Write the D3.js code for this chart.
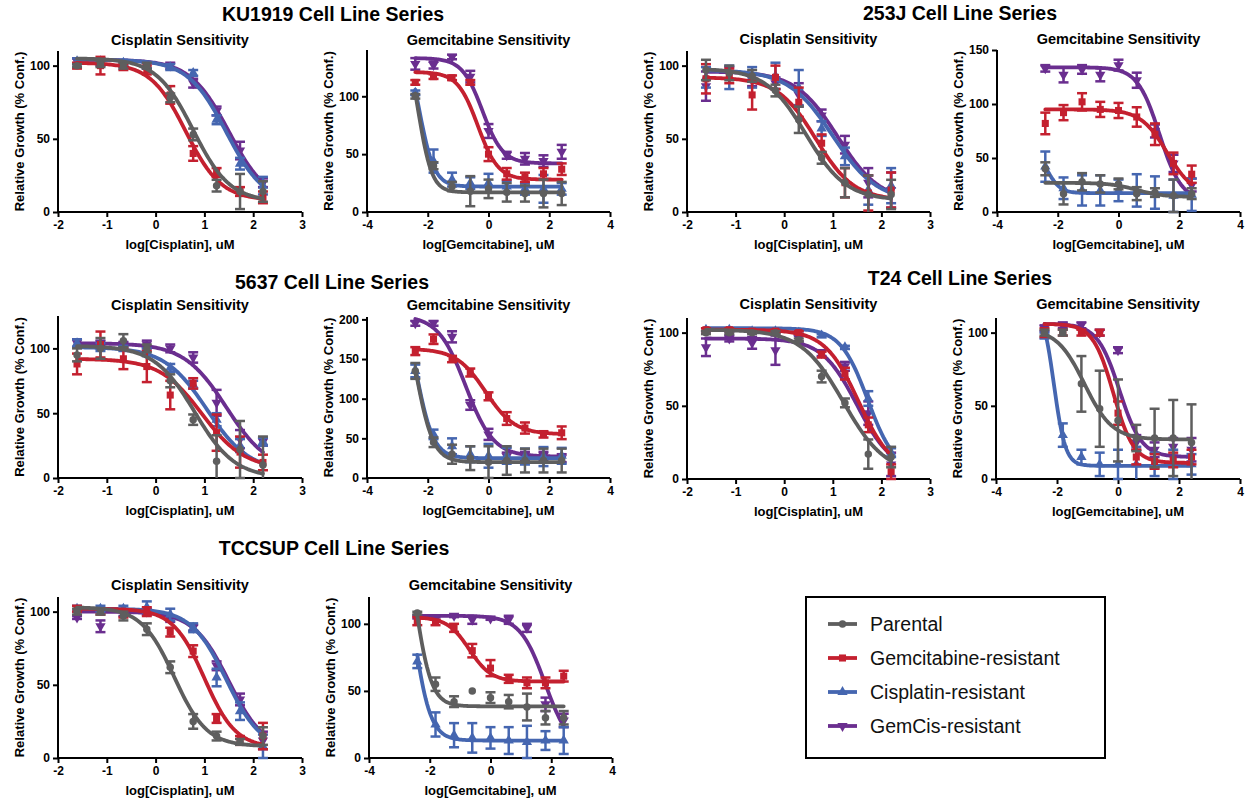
<!DOCTYPE html>
<html><head><meta charset="utf-8">
<script src="https://cdn.jsdelivr.net/npm/d3@7"></script>
<style>
body{margin:0;background:#fff}
text{font-family:"Liberation Sans",Arial,Helvetica,sans-serif}
</style>
</head><body>
<svg id="chart" width="1247" height="803"></svg>
<script>
// ---------------- DATA ----------------
const seriesNames = ["Parental", "Gemcitabine-resistant", "Cisplatin-resistant", "GemCis-resistant"];
const cellLines = ["KU1919", "253J", "5637", "T24", "TCCSUP"];
const cisLogDose = [-1.61, -1.13, -0.66, -0.18, 0.30, 0.77, 1.25, 1.73, 2.20];
const gemLogDose = [-2.41, -1.81, -1.20, -0.60, 0.00, 0.60, 1.20, 1.81, 2.41];
const cisTicks = [-2, -1, 0, 1, 2, 3];
const gemTicks = [-4, -2, 0, 2, 4];

// mean per series [Parental, Gem-res, Cis-res, GemCis-res]; sem; fit = [top, bottom, logIC50, hill]
const ku1919CisMean = [[100,101,100,100,78,53,18,14,14],[100,100,99,97,80,40,27,14,10],[103,103,102,100,99,95,63,33,18],[103,102,101,100,100,88,69,42,20]];
const ku1919CisSem  = [[1,2,2,2,3,4,4,12,7],[2,6,2,3,6,5,3,3,4],[2,2,2,2,2,2,3,4,6],[2,2,2,2,2,3,3,6,3]];
const ku1919CisFit  = [[105,7,0.77,1.15],[102,8,0.62,1.2],[104,5,1.45,1.1],[104,6,1.5,1.1]];

const ku1919GemMean = [[100,40,22,18,20,17,16,16,16],[112,117,116,112,50,33,30,33,37],[103,44,28,25,25,22,20,20,20],[128,127,134,117,70,49,46,44,52]];
const ku1919GemSem  = [[2,3,4,13,8,8,7,12,10],[2,2,2,2,6,5,4,5,5],[2,10,6,5,8,5,5,12,5],[5,3,2,5,6,3,5,5,6]];
const ku1919GemFit  = [[160,17,-2.32,1.9],[121,28,-0.35,1.3],[160,22,-2.3,1.7],[133,42,-0.2,1.3]];

const j253CisMean = [[97,95,93,83,63,37,20,12,12],[91,93,80,92,75,47,20,13,15],[92,92,92,93,85,57,38,15,18],[86,95,90,88,80,66,46,20,15]];
const j253CisSem  = [[7,5,4,4,9,4,10,13,10],[10,5,10,8,10,6,10,12,12],[7,8,7,9,12,5,6,10,12],[10,4,4,4,8,4,6,10,12]];
const j253CisFit  = [[98,8,0.45,1.05],[92,8,0.65,1.1],[97,7,1.0,0.95],[96,7,1.1,1.0]];

const j253GemMean = [[40,17,28,26,26,17,18,15,17],[82,92,102,95,94,88,72,45,35],[42,22,20,20,20,20,18,15,16],[133,127,132,127,136,122,75,45,25]];
const j253GemSem  = [[6,10,8,8,5,6,4,15,5],[10,7,8,7,7,9,10,10,8],[14,10,14,14,10,15,15,15,15],[3,7,4,6,5,7,6,8,6]];
const j253GemFit  = [[27,14,0.6,1.0],[95,15,1.6,1.0],[60,17.5,-2.35,2.0],[134,10,1.35,1.2]];

const c5637CisMean = [[95,100,106,100,75,45,13,22,10],[88,103,92,86,64,73,35,20,12],[104,101,100,97,85,72,45,25,28],[104,104,103,103,100,93,58,30,28]];
const c5637CisSem  = [[5,8,5,3,5,4,20,22,22],[8,10,8,12,11,4,14,12,6],[3,3,2,3,3,3,5,5,3],[3,2,2,3,3,4,10,7,3]];
const c5637CisFit  = [[102,0,0.8,1.05],[92,7,0.95,1.0],[101,5,1.05,1.0],[104,5,1.45,1.0]];

const c5637GemMean = [[135,45,30,25,20,22,22,22,22],[160,175,150,133,103,75,63,55,57],[135,55,40,30,28,28,27,27,28],[195,195,178,92,55,27,28,28,25]];
const c5637GemSem  = [[10,6,12,15,20,18,15,15,15],[5,6,4,5,5,8,7,4,8],[8,6,10,10,15,10,10,12,10],[3,3,7,6,7,5,5,5,5]];
const c5637GemFit  = [[250,20,-2.4,1.5],[163,55,-0.1,0.9],[250,25,-2.4,1.5],[205,27,-0.75,0.95]];

const t24CisMean = [[100,100,100,100,95,70,52,17,15],[102,102,101,101,100,85,72,37,5],[102,102,101,101,100,98,90,55,18],[90,96,93,88,96,86,77,45,10]];
const t24CisSem  = [[1,1,1,1,1,4,3,10,7],[1,1,1,1,1,2,4,5,5],[1,1,1,1,1,1,1,5,3],[6,2,4,10,2,2,3,8,8]];
const t24CisFit  = [[102,3,1.22,1.0],[102,4,1.53,1.25],[103,5,1.72,1.55],[96,5,1.5,1.2]];

const t24GemMean = [[100,100,65,48,40,28,28,28,25],[100,100,100,100,45,15,12,13,15],[98,30,15,10,10,10,10,10,10],[103,105,105,100,88,25,20,22,20]];
const t24GemSem  = [[2,2,19,26,28,9,20,26,26],[3,2,2,2,8,5,5,5,5],[2,8,5,8,10,12,8,10,7],[2,2,2,2,2,5,5,6,8]];
const t24GemFit  = [[103,27,-1.1,0.95],[106,11,-0.15,1.3],[120,9,-2.1,2.3],[106,15,0.05,1.2]];

const tccCisMean = [[100,100,97,88,62,25,15,11,15],[102,100,98,100,86,73,27,12,15],[102,102,102,103,98,89,55,32,8],[96,90,99,100,95,89,63,40,12]];
const tccCisSem  = [[2,2,3,4,4,5,3,2,6],[2,2,2,3,3,4,3,3,9],[2,2,2,4,4,3,6,6,8],[1,4,2,2,2,2,3,4,6]];
const tccCisFit  = [[103,8,0.38,1.3],[102,7,1.0,1.35],[102,5,1.45,1.2],[100,5,1.5,1.2]];

const tccGemMean = [[108,55,42,50,45,42,38,30,30],[102,101,97,80,67,59,56,56,61],[72,25,17,15,15,13,12,13,13],[105,104,106,103,104,103,97,40,28]];
const tccGemSem  = [[1,5,4,0,4,5,10,5,5],[3,2,3,5,6,3,4,4,4],[5,9,9,11,8,10,12,7,10],[1,1,1,3,1,3,3,5,5]];
const tccGemFit  = [[200,38.5,-2.5,1.6],[105,57,-0.7,1.2],[200,13,-2.6,1.5],[106,5,1.8,1.05]];

const yAxisMax = [110, 140, 110, 150, 125, 203, 110, 110, 110, 120];
const yTickSets = [[0,50,100],[0,50,100],[0,50,100],[0,50,100,150],[0,50,100],[0,50,100,150,200],[0,50,100],[0,50,100],[0,50,100],[0,50,100]];

// ---------------- STYLE / LAYOUT ----------------
const colors = ["#5e5e5e", "#c4202f", "#4566b0", "#6a2e8f"];
const symbols = ["circle", "square", "up", "down"];

const panels = [
  {drug:"cis", mean:ku1919CisMean, sem:ku1919CisSem, fit:ku1919CisFit, x:58,  y:51,  w:244, h:161, tb:45},
  {drug:"gem", mean:ku1919GemMean, sem:ku1919GemSem, fit:ku1919GemFit, x:367, y:50,  w:243, h:162, tb:45},
  {drug:"cis", mean:j253CisMean,   sem:j253CisSem,   fit:j253CisFit,   x:687, y:51,  w:243, h:161, tb:44},
  {drug:"gem", mean:j253GemMean,   sem:j253GemSem,   fit:j253GemFit,   x:997, y:50,  w:243, h:162, tb:44},
  {drug:"cis", mean:c5637CisMean,  sem:c5637CisSem,  fit:c5637CisFit,  x:58,  y:316, w:244, h:162, tb:310},
  {drug:"gem", mean:c5637GemMean,  sem:c5637GemSem,  fit:c5637GemFit,  x:367, y:317, w:243, h:161, tb:310},
  {drug:"cis", mean:t24CisMean,    sem:t24CisSem,    fit:t24CisFit,    x:687, y:318, w:243, h:161, tb:309},
  {drug:"gem", mean:t24GemMean,    sem:t24GemSem,    fit:t24GemFit,    x:996, y:318, w:244, h:161, tb:309},
  {drug:"cis", mean:tccCisMean,    sem:tccCisSem,    fit:tccCisFit,    x:58,  y:597, w:244, h:161, tb:590},
  {drug:"gem", mean:tccGemMean,    sem:tccGemSem,    fit:tccGemFit,    x:369, y:597, w:243, h:161, tb:590}
];
const mainTitles = [
  {x:333, y:21}, {x:960, y:20}, {x:332, y:289}, {x:960, y:285}, {x:334, y:555}
];

const svg = d3.select("#chart");
svg.append("rect").attr("width",1247).attr("height",803).attr("fill","#fff");

function logistic(f, x){ return f[1] + (f[0]-f[1])/(1+Math.pow(10,(x-f[2])*f[3])); }

function symbolPath(kind){
  if (kind==="circle") return d3.symbol(d3.symbolCircle, 44)();
  if (kind==="square") return d3.symbol(d3.symbolSquare, 50)();
  return d3.symbol(d3.symbolTriangle, 46)();
}
function addMarker(g, kind, cx, cy, color){
  g.append("path").attr("d", symbolPath(kind))
    .attr("transform", `translate(${cx},${cy})` + (kind==="down" ? " rotate(180)" : ""))
    .attr("fill", color);
}

mainTitles.forEach((t,i)=>{
  svg.append("text").attr("x",t.x).attr("y",t.y).attr("text-anchor","middle")
    .attr("font-size","19.5px").attr("font-weight","bold").text(cellLines[i] + " Cell Line Series");
});

panels.forEach((p, pi)=>{
  const isCis = p.drug==="cis";
  const doses = isCis ? cisLogDose : gemLogDose;
  const xs = d3.scaleLinear().domain(isCis ? [-2,3] : [-4,4]).range([p.x, p.x+p.w]);
  const ymax = yAxisMax[pi];
  const ys = d3.scaleLinear().domain([0, ymax]).range([p.y+p.h, p.y]);
  const g = svg.append("g");

  g.append("text").attr("x", p.x + p.w/2).attr("y", p.tb).attr("text-anchor","middle")
    .attr("font-size","14.5px").attr("font-weight","bold")
    .text(isCis ? "Cisplatin Sensitivity" : "Gemcitabine Sensitivity");

  const xAxis = d3.axisBottom(xs).tickValues(isCis ? cisTicks : gemTicks).tickSize(5).tickSizeOuter(0).tickPadding(3).tickFormat(d=>String(d));
  const yAxis = d3.axisLeft(ys).tickValues(yTickSets[pi]).tickSize(5).tickSizeOuter(0).tickPadding(3).tickFormat(d=>String(d));
  const xg = g.append("g").attr("transform",`translate(0,${p.y+p.h})`).call(xAxis);
  const yg = g.append("g").attr("transform",`translate(${p.x},0)`).call(yAxis);
  [xg,yg].forEach(a=>{
    a.select(".domain").attr("stroke","#000").attr("stroke-width",2);
    a.selectAll(".tick line").attr("stroke","#000").attr("stroke-width",2);
    a.selectAll(".tick text").attr("font-size","12px").attr("font-weight","bold").attr("fill","#000")
      .attr("font-family",'"Liberation Sans",Arial,sans-serif');
  });
  xg.select(".domain").attr("d", `M${p.x-1},0H${p.x+p.w}`);
  yg.select(".domain").attr("d", `M0,${p.y+p.h+1}V${p.y}`);

  g.append("text").attr("x", p.x + p.w/2).attr("y", p.y+p.h+37).attr("text-anchor","middle")
    .attr("font-size","13px").attr("font-weight","bold")
    .text(isCis ? "log[Cisplatin], uM" : "log[Gemcitabine], uM");
  g.append("text").attr("transform",`translate(${p.x-34},${p.y+p.h/2}) rotate(-90)`).attr("text-anchor","middle")
    .attr("font-size","13px").attr("font-weight","bold").text("Relative Growth (% Conf.)");

  [3,2,1,0].forEach(si=>{
    const col = colors[si];
    const sg = g.append("g");
    doses.forEach((d,k)=>{
      const m = p.mean[si][k], e = p.sem[si][k];
      if (e<=0) return;
      const hi = Math.min(ymax, m+e), lo = Math.max(0, m-e);
      const cx = xs(d);
      sg.append("line").attr("x1",cx).attr("x2",cx).attr("y1",ys(hi)).attr("y2",ys(lo))
        .attr("stroke",col).attr("stroke-width",2.5);
      if (m+e <= ymax) sg.append("line").attr("x1",cx-5).attr("x2",cx+5).attr("y1",ys(hi)).attr("y2",ys(hi)).attr("stroke",col).attr("stroke-width",2.5);
      if (m-e >= 0) sg.append("line").attr("x1",cx-5).attr("x2",cx+5).attr("y1",ys(lo)).attr("y2",ys(lo)).attr("stroke",col).attr("stroke-width",2.5);
    });
    const x0 = doses[0], x1 = doses[doses.length-1];
    const pts = d3.range(121).map(i=>{ const x = x0 + (x1-x0)*i/120; return [x, logistic(p.fit[si], x)]; });
    sg.append("path").attr("d", d3.line().x(d=>xs(d[0])).y(d=>ys(Math.max(0,Math.min(ymax,d[1]))))(pts))
      .attr("fill","none").attr("stroke",col).attr("stroke-width",3.8).attr("stroke-linejoin","round").attr("stroke-linecap","round");
    doses.forEach((d,k)=> addMarker(sg, symbols[si], xs(d), ys(p.mean[si][k]), col));
  });
});

const lg = svg.append("g");
lg.append("rect").attr("x",806).attr("y",597).attr("width",299).attr("height",161)
  .attr("fill","#fff").attr("stroke","#000").attr("stroke-width",2);
seriesNames.forEach((n,i)=>{
  const cy = 624 + i*34;
  lg.append("line").attr("x1",828).attr("x2",857).attr("y1",cy).attr("y2",cy)
    .attr("stroke",colors[i]).attr("stroke-width",3.8);
  addMarker(lg, symbols[i], 842.5, cy, colors[i]);
  lg.append("text").attr("x",870).attr("y",cy+7).attr("font-size","19.5px").attr("fill","#111").text(n);
});
</script>
</body></html>
